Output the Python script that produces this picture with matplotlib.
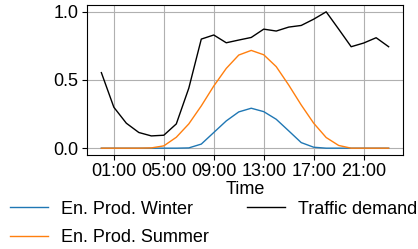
import matplotlib
matplotlib.use("Agg")
import matplotlib.pyplot as plt

plt.rcParams['font.family'] = ['Liberation Sans', 'DejaVu Sans']
plt.rcParams['font.size'] = 13

hours = list(range(24))
tick_hours = [1, 5, 9, 13, 17, 21]
tick_labels = ["01:00", "05:00", "09:00", "13:00", "17:00", "21:00"]

winter = [0, 0, 0, 0, 0, 0, 0, 0.002, 0.03, 0.115, 0.2, 0.266, 0.293, 0.268,
          0.212, 0.127, 0.041, 0.007, 0, 0, 0, 0, 0, 0]
summer = [0, 0, 0, 0, 0.002, 0.017, 0.08, 0.178, 0.31, 0.456, 0.585, 0.683,
          0.717, 0.685, 0.598, 0.463, 0.317, 0.183, 0.078, 0.02, 0, 0, 0, 0]
traffic = [0.554, 0.30, 0.183, 0.115, 0.09, 0.095, 0.178, 0.44, 0.80, 0.83,
           0.773, 0.793, 0.812, 0.873, 0.859, 0.888, 0.90, 0.946, 1.0, 0.873,
           0.744, 0.771, 0.81, 0.744]

W, H = 418, 249
fig = plt.figure(figsize=(W / 100, H / 100), dpi=100)
ax = fig.add_axes([87 / W, 1 - 155 / H, (403 - 87) / W, (155 - 5) / H])

l1, = ax.plot(hours, winter, color='#1f77b4', lw=1.0, label='En. Prod. Winter')
l2, = ax.plot(hours, summer, color='#ff7f0e', lw=1.0, label='En. Prod. Summer')
l3, = ax.plot(hours, traffic, color='black', lw=1.0, label='Traffic demand')

ax.set_xticks(tick_hours)
ax.set_xticklabels(tick_labels)
ax.set_yticks([0.0, 0.5, 1.0])
ax.set_ylim(-0.05, 1.05)
ax.set_xlim(-1.15, 24.15)
ax.grid(True, color='#b0b0b0', lw=0.8)
ax.set_xlabel('Time', labelpad=0.5)
ax.tick_params(labelsize=13, pad=2.5)

fig.legend(handles=[l1, l2, l3], ncol=2, frameon=False, loc='upper left',
           bbox_to_anchor=(2.5 / W, 1 - 193.5 / H), fontsize=13,
           handlelength=2.1, handletextpad=0.75, columnspacing=2.1,
           labelspacing=0.62, borderaxespad=0)

fig.savefig('out.png', dpi=100)
